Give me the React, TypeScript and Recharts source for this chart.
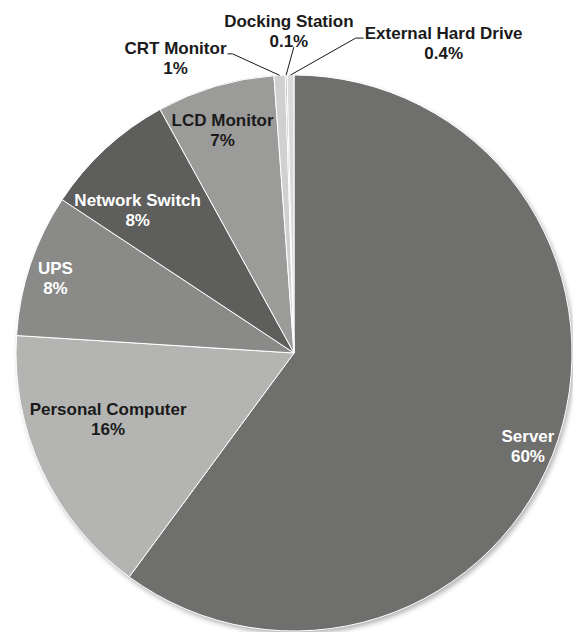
import { PieChart, Pie, Cell } from 'recharts';

// slices, clockwise from 12 o'clock
const categories = [
  'Server',
  'Personal Computer',
  'UPS',
  'Network Switch',
  'LCD Monitor',
  'CRT Monitor',
  'Docking Station',
  'External Hard Drive',
];
const shares = [60.1, 15.9, 8.3, 7.7, 6.85, 0.65, 0.1, 0.4];
const shareLabels = ['60%', '16%', '8%', '8%', '7%', '1%', '0.1%', '0.4%'];

const COLORS = ['#6f6f6d', '#b4b5b3', '#8a8a89', '#5e5e5d', '#9b9b9a', '#d0d0d0', '#a3a3a3', '#dadada'];
const TEXT_COLORS = ['#fff', '#1a1a1a', '#fff', '#fff', '#1a1a1a', '#1a1a1a', '#1a1a1a', '#1a1a1a'];

// label placement: [angle shift in degrees (clockwise) from slice middle, radius factor]
const LABEL_PLACE: [number, number][] = [
  [3.4, 0.905],
  [5.6, 0.709],
  [-1.0, 0.9],
  [-4.9, 0.762],
  [-1.3, 0.842],
  [-18.9, 1.144],
  [0.7, 1.158],
  [26.5, 1.238],
];

// leader lines for outside labels: [start, elbow] offsets from label centre
const LEADERS: (null | [[number, number], [number, number]])[] = [
  null,
  null,
  null,
  null,
  null,
  [[52, -4], [57, -4]],
  [[5, 16], [5, 16]],
  [[-80, -5], [-88, -5]],
];

const data = categories.map((name, i) => ({ name, value: shares[i], label: shareLabels[i] }));

const FONT = '"Liberation Sans", Arial, sans-serif';

const renderLabel = (props: any) => {
  const { cx, cy, midAngle, outerRadius, index } = props;
  const [shift, factor] = LABEL_PLACE[index];
  const clock0 = ((90 - midAngle) * Math.PI) / 180;
  const clock = ((90 - midAngle + shift) * Math.PI) / 180;
  const x = cx + outerRadius * factor * Math.sin(clock);
  const y = cy - outerRadius * factor * Math.cos(clock);
  const leader = LEADERS[index];
  let line = null;
  if (leader) {
    const px = cx + outerRadius * Math.sin(clock0);
    const py = cy - outerRadius * Math.cos(clock0);
    const [a, b] = leader;
    line = (
      <polyline
        points={`${x + a[0]},${y + a[1]} ${x + b[0]},${y + b[1]} ${px},${py}`}
        fill="none"
        stroke="#1a1a1a"
        strokeWidth={1}
      />
    );
  }
  return (
    <g key={`lbl-${index}`}>
      {line}
      <text
        textAnchor="middle"
        fill={TEXT_COLORS[index]}
        fontSize={17}
        fontWeight="bold"
        fontFamily={FONT}
      >
        <tspan x={x} y={y - 4}>
          {categories[index]}
        </tspan>
        <tspan x={x} y={y + 16}>
          {shareLabels[index]}
        </tspan>
      </text>
    </g>
  );
};

export default function App() {
  return (
    <div style={{ position: 'absolute', left: 0, top: 0, background: '#fff' }}>
      <PieChart width={573} height={632} margin={{ top: 0, right: 0, bottom: 0, left: 0 }}>
        <defs>
          <filter id="pieShadow" x="-10%" y="-10%" width="120%" height="120%">
            <feGaussianBlur stdDeviation="2.5" />
          </filter>
        </defs>
        <Pie
          data={[{ name: 'shadow', value: 1 }]}
          dataKey="value"
          cx={296}
          cy={356}
          outerRadius={278}
          startAngle={90}
          endAngle={-270}
          stroke="none"
          label={false}
          labelLine={false}
          isAnimationActive={false}
        >
          <Cell fill="#000" fillOpacity={0.3} filter="url(#pieShadow)" />
        </Pie>
        <Pie
          data={data}
          dataKey="value"
          nameKey="name"
          cx={294}
          cy={353}
          outerRadius={278}
          startAngle={90}
          endAngle={-270}
          stroke="#fff"
          strokeWidth={1}
          label={renderLabel}
          labelLine={false}
          isAnimationActive={false}
        >
          {data.map((d, i) => (
            <Cell key={d.name} fill={COLORS[i]} />
          ))}
        </Pie>
      </PieChart>
    </div>
  );
}
